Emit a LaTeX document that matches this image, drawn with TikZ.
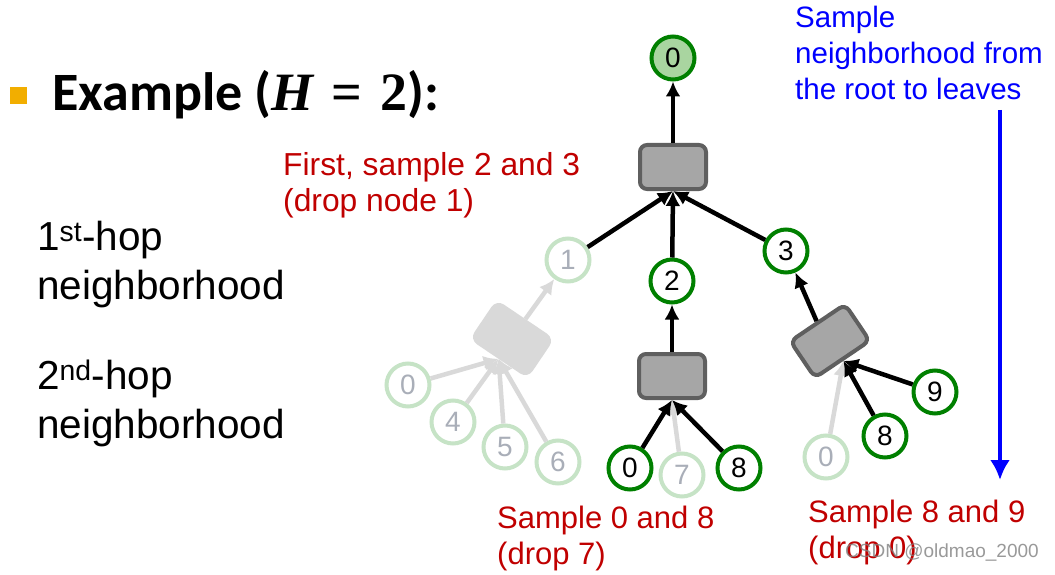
\documentclass[tikz,border=0pt]{standalone}
\usepackage{fontspec}
\setmainfont{Liberation Sans}
\newfontfamily\titlefont{Carlito}
\newfontfamily\mathfont{Liberation Serif}
\usepackage{tikz}
\usetikzlibrary{arrows.meta}
\tikzset{>={Latex[length=15pt,width=15pt]}}
\definecolor{nodegreen}{HTML}{008000}
\definecolor{rootfill}{HTML}{A9D5A0}
\definecolor{fadegreen}{HTML}{C6E3C6}
\definecolor{fadetext}{HTML}{A9AEB8}
\definecolor{fadegray}{HTML}{D9D9D9}
\definecolor{aggfill}{HTML}{A6A6A6}
\definecolor{aggborder}{HTML}{5F5F5F}
\definecolor{samplered}{HTML}{C00000}
\definecolor{bulletorange}{HTML}{F2AE00}

\begin{document}
\begin{tikzpicture}[x=1pt, y=-1pt,
    nd/.style={circle, draw=nodegreen, line width=4pt, fill=white, minimum size=43pt, inner sep=0pt, font={\fontsize{28}{28}\selectfont}},
    rootnd/.style={nd, fill=rootfill},
    fadend/.style={nd, draw=fadegreen, text=fadetext},
    agg/.style={rectangle, rounded corners=7pt, draw=aggborder, fill=aggfill, line width=4pt, minimum width=66pt, minimum height=44pt},
    fadeagg/.style={agg, draw=fadegray, fill=fadegray},
    edge/.style={->, line width=4.5pt},
    fadeedge/.style={edge, draw=fadegray, fill=fadegray},
    note/.style={anchor=west, align=left, inner sep=0pt, text=samplered, font={\fontsize{31}{36}\selectfont}}]
                \useasboundingbox (0, 0) rectangle (1055, 575);
                % title
                \fill[bulletorange] (10, 87) rectangle (27, 104);
                \node[anchor=west, inner sep=0pt, font={\titlefont\bfseries\fontsize{54}{54}\selectfont}] (title) at (52, 95) {Example ({\mathfont\itshape H}\,\,{\mathfont=}\,\,{\mathfont 2}):};
                \node[anchor=west, align=left, inner sep=0pt, font={\fontsize{40.5}{49}\selectfont}] (hop1) at (37, 265) {1\textsuperscript{st}-hop\\neighborhood};
                \node[anchor=west, align=left, inner sep=0pt, font={\fontsize{40.5}{49}\selectfont}] (hop2) at (37, 403) {2\textsuperscript{nd}-hop\\neighborhood};
                % tree
                \node[rootnd] (r) at (673, 58) {0};
                \node[agg] (agg0) at (673, 167) {};
                \node[fadend] (n1) at (568, 260) {1};
                \node[nd] (n2) at (672, 281) {2};
                \node[nd] (n3) at (786, 251) {3};
                \node[fadeagg, rotate=-34] (agg1) at (512, 339) {};
                \node[agg] (agg2) at (672, 376) {};
                \node[agg, rotate=34] (agg3) at (830, 341) {};
                \node[fadend] (a0) at (408, 385) {0};
                \node[fadend] (a4) at (453, 422) {4};
                \node[fadend] (a5) at (505, 447) {5};
                \node[fadend] (a6) at (558, 462) {6};
                \node[nd] (b0) at (630, 468) {0};
                \node[fadend] (b7) at (682, 475) {7};
                \node[nd] (b8) at (739, 468) {8};
                \node[fadend] (c0) at (826, 457) {0};
                \node[nd] (c8) at (885, 436) {8};
                \node[nd] (c9) at (935, 392) {9};
                \draw[edge] (agg0) -- (r);
                \draw[edge] (n1) -- (agg0.south);
                \draw[edge] (n2) -- (agg0.south);
                \draw[edge] (n3) -- (agg0.south);
                \draw[fadeedge] (agg1.north) -- (n1);
                \draw[edge] (agg2) -- (n2);
                \draw[edge] (agg3.north) -- (n3);
                \foreach \leaf in {a0, a4, a5, a6}
                    \draw[fadeedge] (\leaf) -- (agg1.south);
                \draw[fadeedge] (b7) -- (agg2.south);
                \draw[edge] (b0) -- (agg2.south);
                \draw[edge] (b8) -- (agg2.south);
                \draw[fadeedge] (c0) -- (agg3.south);
                \draw[edge] (c8) -- (agg3.south);
                \draw[edge] (c9) -- (agg3.south);
                % notes
                \node[note, font={\fontsize{31.8}{36}\selectfont}] (first) at (283, 185) {First, sample 2 and 3\\(drop node 1)};
                \node[note] (mid) at (497, 538) {Sample 0 and 8\\(drop 7)};
                \node[note] (right) at (808, 532) {Sample 8 and 9\\(drop 0)};
                \node[note, text=blue, font={\fontsize{29.5}{36}\selectfont}] (dir) at (795, 53) {Sample\\neighborhood from\\the root to leaves};
                \coordinate (dtop) at (1000, 110);
                \coordinate (dbot) at (1000, 480);
                \draw[->, line width=4pt, blue, >={Latex[length=20pt,width=20pt]}] (dtop) -- (dbot);
                \node[anchor=west, inner sep=0pt, text=gray, opacity=0.8, font={\fontsize{19}{19}\selectfont}] (mark) at (845, 553) {CSDN @oldmao\_2000};
            \end{tikzpicture}
\end{document}
